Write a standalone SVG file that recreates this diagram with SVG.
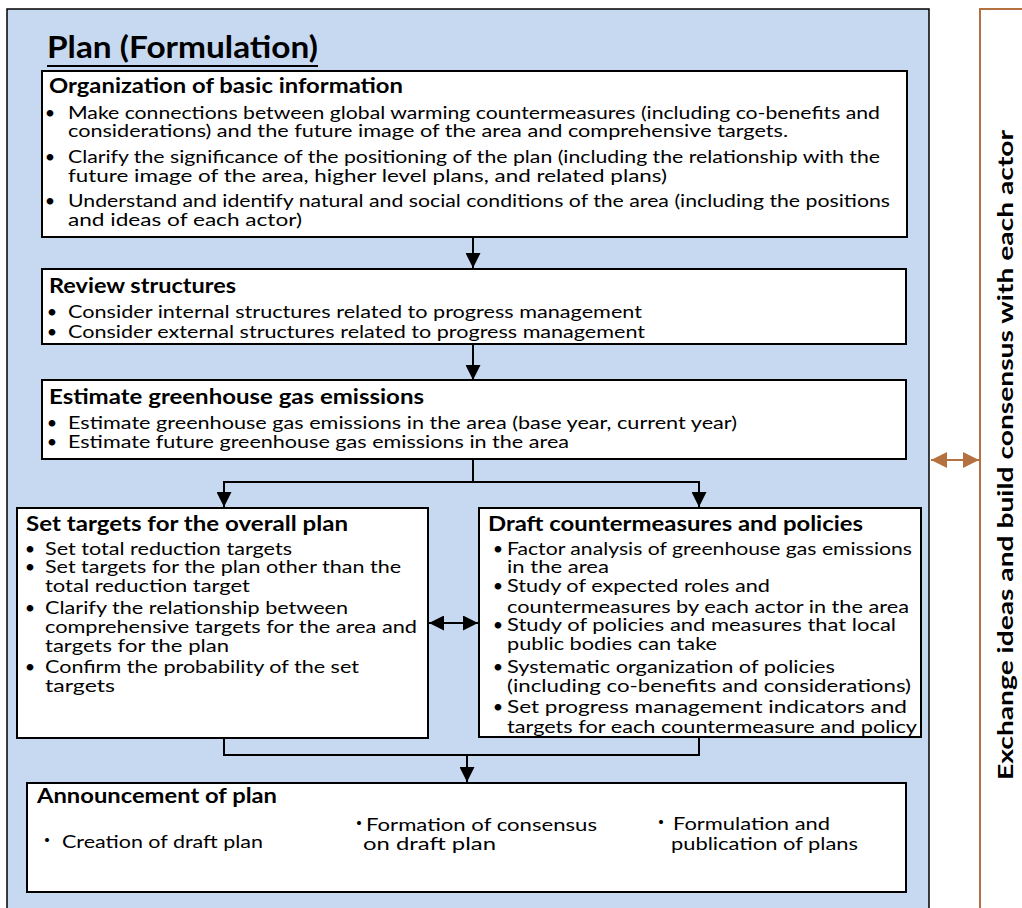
<svg xmlns="http://www.w3.org/2000/svg" width="1022" height="908" viewBox="0 0 1022 908">
<style>
text{font-family:Lato,"Liberation Sans",sans-serif;fill:#000}
.t{font-size:18px}
.h{font-size:20px;font-weight:bold}
.ttl{font-size:30px;font-weight:bold}
.side{font-size:21px;font-weight:bold}
.dot{font-family:"Noto Sans CJK JP",sans-serif;font-size:19px}
.box{fill:#fff;stroke:#000;stroke-width:2}
.ln{fill:none;stroke:#000;stroke-width:2}
.br{fill:none;stroke:#B4703F;stroke-width:2}
</style>
<defs>
<marker id="ah" viewBox="0 0 10 10" refX="10" refY="5" markerWidth="15" markerHeight="15" markerUnits="userSpaceOnUse" orient="auto-start-reverse"><path d="M0,0 L10,5 L0,10 z" fill="#000"/></marker>
<marker id="bh" viewBox="0 0 10 10" refX="10" refY="5" markerWidth="16" markerHeight="16" markerUnits="userSpaceOnUse" orient="auto-start-reverse"><path d="M0,0 L10,5 L0,10 z" fill="#B4703F"/></marker>
</defs>

<g id="panel">
<rect x="7" y="9" width="922" height="910" fill="#C6D9F1" stroke="#000" stroke-width="1.5"/>
<text class="ttl" x="47" y="58" textLength="271" lengthAdjust="spacingAndGlyphs">Plan (Formulation)</text>
<line x1="47" y1="66" x2="318" y2="66" stroke="#000" stroke-width="2"/>
</g>

<g id="side">
<path class="br" d="M1022,9 H980 V908"/>
<text class="side" transform="translate(1013,455) rotate(-90)" text-anchor="middle" textLength="650" lengthAdjust="spacingAndGlyphs">Exchange ideas and build consensus with each actor</text>
</g>

<g id="n-org">
<rect class="box" x="42" y="71" width="865" height="166"/>
<text class="h" x="49" y="93" textLength="354" lengthAdjust="spacingAndGlyphs">Organization of basic information</text>
<text class="t" x="50" y="119" text-anchor="middle">•</text>
<text class="t" x="68" y="119" textLength="812" lengthAdjust="spacingAndGlyphs">Make connections between global warming countermeasures (including co-benefits and</text>
<text class="t" x="68" y="137" textLength="720" lengthAdjust="spacingAndGlyphs">considerations) and the future image of the area and comprehensive targets.</text>
<text class="t" x="50" y="163" text-anchor="middle">•</text>
<text class="t" x="68" y="163" textLength="812" lengthAdjust="spacingAndGlyphs">Clarify the significance of the positioning of the plan (including the relationship with the</text>
<text class="t" x="68" y="182" textLength="599" lengthAdjust="spacingAndGlyphs">future image of the area, higher level plans, and related plans)</text>
<text class="t" x="50" y="207" text-anchor="middle">•</text>
<text class="t" x="68" y="207" textLength="822" lengthAdjust="spacingAndGlyphs">Understand and identify natural and social conditions of the area (including the positions</text>
<text class="t" x="68" y="226" textLength="234" lengthAdjust="spacingAndGlyphs">and ideas of each actor)</text>
</g>

<g id="n-review">
<rect class="box" x="42" y="269" width="864" height="75"/>
<text class="h" x="49" y="293" textLength="187" lengthAdjust="spacingAndGlyphs">Review structures</text>
<text class="t" x="52" y="318" text-anchor="middle">•</text>
<text class="t" x="68" y="318" textLength="574" lengthAdjust="spacingAndGlyphs">Consider internal structures related to progress management</text>
<text class="t" x="52" y="338" text-anchor="middle">•</text>
<text class="t" x="68" y="338" textLength="577" lengthAdjust="spacingAndGlyphs">Consider external structures related to progress management</text>
</g>

<g id="n-estimate">
<rect class="box" x="42" y="380" width="864" height="79"/>
<text class="h" x="49" y="404" textLength="375" lengthAdjust="spacingAndGlyphs">Estimate greenhouse gas emissions</text>
<text class="t" x="52" y="429" text-anchor="middle">•</text>
<text class="t" x="68" y="429" textLength="669" lengthAdjust="spacingAndGlyphs">Estimate greenhouse gas emissions in the area (base year, current year)</text>
<text class="t" x="52" y="448" text-anchor="middle">•</text>
<text class="t" x="68" y="448" textLength="501" lengthAdjust="spacingAndGlyphs">Estimate future greenhouse gas emissions in the area</text>
</g>

<g id="n-targets">
<rect class="box" x="17" y="508" width="411" height="230"/>
<text class="h" x="26" y="531" textLength="322" lengthAdjust="spacingAndGlyphs">Set targets for the overall plan</text>
<text class="t" x="30" y="555" text-anchor="middle">•</text>
<text class="t" x="45" y="555" textLength="247" lengthAdjust="spacingAndGlyphs">Set total reduction targets</text>
<text class="t" x="30" y="573" text-anchor="middle">•</text>
<text class="t" x="45" y="573" textLength="356" lengthAdjust="spacingAndGlyphs">Set targets for the plan other than the</text>
<text class="t" x="45" y="592" textLength="205" lengthAdjust="spacingAndGlyphs">total reduction target</text>
<text class="t" x="30" y="614" text-anchor="middle">•</text>
<text class="t" x="45" y="614" textLength="303" lengthAdjust="spacingAndGlyphs">Clarify the relationship between</text>
<text class="t" x="45" y="633" textLength="372" lengthAdjust="spacingAndGlyphs">comprehensive targets for the area and</text>
<text class="t" x="45" y="652" textLength="184" lengthAdjust="spacingAndGlyphs">targets for the plan</text>
<text class="t" x="30" y="673" text-anchor="middle">•</text>
<text class="t" x="45" y="673" textLength="314" lengthAdjust="spacingAndGlyphs">Confirm the probability of the set</text>
<text class="t" x="45" y="692" textLength="70" lengthAdjust="spacingAndGlyphs">targets</text>
</g>

<g id="n-draft">
<rect class="box" x="479" y="508" width="442" height="229"/>
<text class="h" x="488" y="531" textLength="375" lengthAdjust="spacingAndGlyphs">Draft countermeasures and policies</text>
<text class="t" x="498" y="555" text-anchor="middle">•</text>
<text class="t" x="507" y="555" textLength="405" lengthAdjust="spacingAndGlyphs">Factor analysis of greenhouse gas emissions</text>
<text class="t" x="507" y="573" textLength="102" lengthAdjust="spacingAndGlyphs">in the area</text>
<text class="t" x="498" y="592" text-anchor="middle">•</text>
<text class="t" x="507" y="592" textLength="263" lengthAdjust="spacingAndGlyphs">Study of expected roles and</text>
<text class="t" x="507" y="613" textLength="402" lengthAdjust="spacingAndGlyphs">countermeasures by each actor in the area</text>
<text class="t" x="498" y="631" text-anchor="middle">•</text>
<text class="t" x="507" y="631" textLength="389" lengthAdjust="spacingAndGlyphs">Study of policies and measures that local</text>
<text class="t" x="507" y="650" textLength="210" lengthAdjust="spacingAndGlyphs">public bodies can take</text>
<text class="t" x="498" y="673" text-anchor="middle">•</text>
<text class="t" x="507" y="673" textLength="328" lengthAdjust="spacingAndGlyphs">Systematic organization of policies</text>
<text class="t" x="507" y="692" textLength="404" lengthAdjust="spacingAndGlyphs">(including co-benefits and considerations)</text>
<text class="t" x="498" y="713" text-anchor="middle">•</text>
<text class="t" x="507" y="713" textLength="400" lengthAdjust="spacingAndGlyphs">Set progress management indicators and</text>
<text class="t" x="507" y="733" textLength="410" lengthAdjust="spacingAndGlyphs">targets for each countermeasure and policy</text>
</g>

<g id="n-announce">
<rect class="box" x="27" y="783" width="879" height="109"/>
<text class="h" x="37" y="803" textLength="240" lengthAdjust="spacingAndGlyphs">Announcement of plan</text>
<text class="dot" x="47" y="848" text-anchor="middle">・</text>
<text class="t" x="62" y="848" textLength="201" lengthAdjust="spacingAndGlyphs">Creation of draft plan</text>
<text class="dot" x="359" y="831" text-anchor="middle">・</text>
<text class="t" x="366" y="831" textLength="231" lengthAdjust="spacingAndGlyphs">Formation of consensus</text>
<text class="t" x="363" y="850" textLength="133" lengthAdjust="spacingAndGlyphs">on draft plan</text>
<text class="dot" x="661" y="830" text-anchor="middle">・</text>
<text class="t" x="673" y="830" textLength="157" lengthAdjust="spacingAndGlyphs">Formulation and</text>
<text class="t" x="671" y="850" textLength="187" lengthAdjust="spacingAndGlyphs">publication of plans</text>
</g>

<g id="connectors">
<path class="ln" d="M473,237 V268" marker-end="url(#ah)"/>
<path class="ln" d="M473,344 V380" marker-end="url(#ah)"/>
<path class="ln" d="M473,459 V482 H224 V507" marker-end="url(#ah)"/>
<path class="ln" d="M473,482 H699 V507" marker-end="url(#ah)"/>
<path class="ln" d="M429,623 H478" marker-start="url(#ah)" marker-end="url(#ah)"/>
<path class="ln" d="M224,738 V755 H699 V737"/>
<path class="ln" d="M467,755 V782" marker-end="url(#ah)"/>
<path class="br" d="M931,460 H979" marker-start="url(#bh)" marker-end="url(#bh)"/>
</g>
</svg>
